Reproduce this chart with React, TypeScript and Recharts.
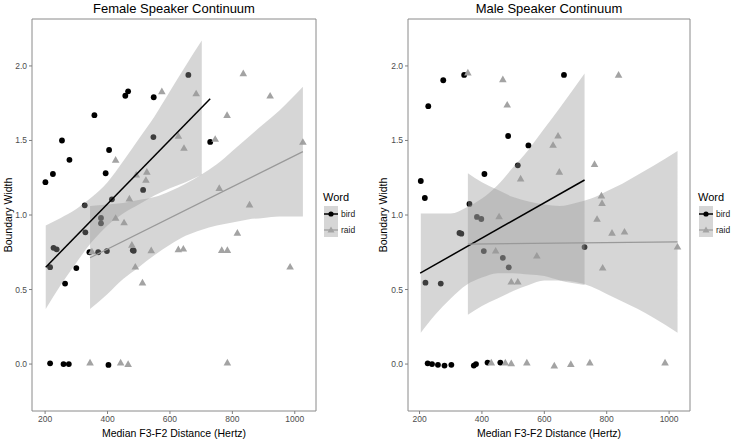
import React from 'react';
import { ComposedChart, Scatter, Line, Area, XAxis, YAxis, ReferenceArea } from 'recharts';

const FONT = '"Liberation Sans", Arial, sans-serif';

// ---------- Female speaker continuum ----------
const femaleBirdPts: [number, number][] = [
  [201, 1.22], [225, 1.275], [254, 1.5], [278, 1.37], [327, 1.065], [358, 1.67], [394, 1.28],
  [405, 1.436], [414, 1.105], [457, 1.8], [466, 1.83], [514, 1.168], [547, 1.523], [548, 1.79],
  [659, 1.94], [729, 1.49], [379, 0.98], [379, 0.944], [216, 0.65], [227, 0.78], [237, 0.77],
  [264, 0.54], [300, 0.644], [329, 0.884], [342, 0.75], [370, 0.75], [398, 0.758], [481, 0.763],
  [484, 0.76], [216, 0.005], [259, 0], [276, 0], [403, -0.006],
];
const femaleRaidPts: [number, number][] = [
  [350, 0.755], [426, 1.37], [492, 1.27], [526, 1.29], [523, 1.235], [470, 1.11], [426, 0.98],
  [453, 0.95], [478, 0.8], [489, 0.653], [512, 0.546], [540, 0.763], [574, 1.83], [627, 1.53],
  [645, 1.45], [627, 0.77], [643, 0.774], [684, 1.815], [745, 1.51], [758, 1.18], [783, 1.67],
  [766, 0.765], [784, 0.765], [816, 0.88], [835, 1.95], [855, 1.07], [921, 1.8], [985, 0.653],
  [1026, 1.49], [344, 0.01], [442, 0.01], [466, 0.0], [784, 0.01],
];
const femaleBirdFitX = [202, 729];
const femaleBirdFitY = [0.65, 1.78];
const femaleRaidFitX = [344, 1026];
const femaleRaidFitY = [0.713, 1.425];
const femaleBirdBandX = [202, 250, 300, 350, 400, 450, 500, 550, 600, 650, 702];
const femaleBirdBandLo = [0.37, 0.53, 0.68, 0.82, 0.93, 1.01, 1.07, 1.13, 1.18, 1.22, 1.27];
const femaleBirdBandHi = [0.93, 0.98, 1.04, 1.12, 1.22, 1.36, 1.51, 1.66, 1.83, 2.0, 2.17];
const femaleRaidBandX = [344, 400, 450, 500, 550, 600, 650, 700, 750, 800, 850, 900, 950, 1026];
const femaleRaidBandLo = [0.37, 0.47, 0.57, 0.65, 0.73, 0.8, 0.86, 0.9, 0.93, 0.95, 0.97, 0.98, 0.99, 0.99];
const femaleRaidBandHi = [1.06, 1.07, 1.08, 1.1, 1.12, 1.16, 1.21, 1.27, 1.34, 1.43, 1.52, 1.61, 1.7, 1.86];

// ---------- Male speaker continuum ----------
const maleBirdPts: [number, number][] = [
  [204, 1.228], [217, 1.114], [228, 1.73], [276, 1.904], [343, 1.94], [408, 1.275], [360, 1.074],
  [384, 0.987], [398, 0.973], [484, 1.53], [549, 1.467], [515, 1.333], [663, 1.94], [219, 0.546],
  [268, 0.54], [328, 0.88], [334, 0.875], [406, 0.758], [467, 0.713], [486, 0.649], [729, 0.785],
  [226, 0.005], [240, 0], [259, -0.005], [280, -0.01], [302, -0.005], [374, -0.01], [381, 0],
  [418, 0.01], [459, 0.01],
];
const maleRaidPts: [number, number][] = [
  [355, 1.955], [467, 1.91], [481, 1.74], [524, 1.244], [455, 0.99], [444, 0.76], [576, 0.727],
  [494, 0.552], [515, 0.552], [628, 1.47], [644, 1.532], [648, 1.29], [761, 1.342], [838, 1.94],
  [783, 1.13], [785, 1.08], [769, 0.973], [817, 0.88], [857, 0.888], [1027, 0.787], [787, 0.646],
  [430, 0.01], [475, 0.01], [494, 0.005], [544, 0.01], [632, -0.01], [685, 0], [746, 0.01], [987, 0.01],
];
const maleBirdFitX = [202, 729];
const maleBirdFitY = [0.61, 1.235];
const maleRaidFitX = [355, 1027];
const maleRaidFitY = [0.805, 0.82];
const maleBirdBandX = [204, 250, 300, 350, 400, 450, 500, 550, 600, 650, 729];
const maleBirdBandLo = [0.21, 0.33, 0.44, 0.53, 0.58, 0.61, 0.61, 0.6, 0.59, 0.56, 0.53];
const maleBirdBandHi = [1.01, 1.01, 1.01, 1.05, 1.11, 1.2, 1.32, 1.44, 1.58, 1.72, 1.95];
const maleRaidBandX = [355, 400, 450, 500, 550, 600, 650, 700, 750, 800, 850, 900, 950, 1027];
const maleRaidBandLo = [0.33, 0.39, 0.44, 0.49, 0.53, 0.56, 0.56, 0.55, 0.52, 0.47, 0.42, 0.37, 0.31, 0.21];
const maleRaidBandHi = [1.28, 1.22, 1.17, 1.12, 1.09, 1.07, 1.06, 1.08, 1.11, 1.16, 1.21, 1.27, 1.33, 1.43];

const xTicks = [200, 400, 600, 800, 1000];
const yTicks = [0, 0.5, 1, 1.5, 2];
const legendTitle = 'Word';
const legendLabels = ['bird', 'raid'];
const xTitle = 'Median F3-F2 Distance (Hertz)';
const yTitle = 'Boundary Width';

const toPts = (p: [number, number][]) => p.map(([x, y]) => ({ x, y }));
const toLine = (xs: number[], ys: number[]) => xs.map((x, i) => ({ x, y: ys[i] }));
const toBand = (xs: number[], lo: number[], hi: number[]) => xs.map((x, i) => ({ x, band: [lo[i], hi[i]] }));

const BAND = '#999999';
const RAID = '#a3a3a3';

const Dot = (props: any) => {
  const { cx, cy } = props;
  if (cx == null || cy == null) return null;
  return <circle cx={cx} cy={cy} r={2.9} fill="#000" />;
};
const Tri = (props: any) => {
  const { cx, cy } = props;
  if (cx == null || cy == null) return null;
  const s = 3.8;
  return <polygon points={`${cx},${cy - s} ${cx + s},${cy + s * 0.75} ${cx - s},${cy + s * 0.75}`} fill={RAID} />;
};

type PanelProps = {
  left: number; width: number; yAxisW: number; marginRight: number; xDomain: [number, number];
  title: string; birdPts: [number, number][]; raidPts: [number, number][];
  birdFit: any[]; raidFit: any[]; birdBand: any[]; raidBand: any[]; yTitleX: number; legendX: number;
};

const YDOM: [number, number] = [-0.315, 2.315];

const Panel = (p: PanelProps) => {
  const plotLeft = p.yAxisW;
  const plotRight = p.width - p.marginRight;
  const extra: any = { zIndex: 50 };
  const areaZ: any = { zIndex: 100 };
  return (
    <div style={{ position: 'absolute', left: p.left, top: 0, width: p.width, height: 443 }}>
      <ComposedChart width={p.width} height={443} margin={{ top: 19, right: p.marginRight, bottom: 0, left: 0 }}>
        <XAxis
          type="number" dataKey="x" domain={p.xDomain} ticks={xTicks} allowDataOverflow
          axisLine={false} tickLine={{ stroke: '#7f7f7f' }} tickSize={3} height={32}
          tick={{ fontSize: 8.5, fill: '#4d4d4d', fontFamily: FONT }}
        />
        <YAxis
          type="number" domain={YDOM} ticks={yTicks} allowDataOverflow width={p.yAxisW}
          axisLine={false} tickLine={{ stroke: '#7f7f7f' }} tickSize={3}
          tickFormatter={(v: number) => v.toFixed(1)}
          tick={{ fontSize: 8.5, fill: '#4d4d4d', fontFamily: FONT }}
        />
        <Scatter data={toPts(p.birdPts)} dataKey="y" shape={Dot} isAnimationActive={false} {...extra} />
        <Scatter data={toPts(p.raidPts)} dataKey="y" shape={Tri} isAnimationActive={false} {...extra} />
        <Area data={p.birdBand} dataKey="band" type="monotone" stroke="none" fill={BAND} fillOpacity={0.4} isAnimationActive={false} {...areaZ} />
        <Area data={p.raidBand} dataKey="band" type="monotone" stroke="none" fill={BAND} fillOpacity={0.4} isAnimationActive={false} {...areaZ} />
        <Line data={p.birdFit} dataKey="y" type="linear" stroke="#000" strokeWidth={1.5} dot={false} isAnimationActive={false} />
        <Line data={p.raidFit} dataKey="y" type="linear" stroke="#999" strokeWidth={1.2} dot={false} isAnimationActive={false} />
        <ReferenceArea x1={p.xDomain[0]} x2={p.xDomain[1]} y1={YDOM[0]} y2={YDOM[1]} fill="none" stroke="#8a8a8a" strokeWidth={1} ifOverflow="visible" />
      </ComposedChart>
      <div style={{ position: 'absolute', left: plotLeft, width: plotRight - plotLeft, top: 0, textAlign: 'center', fontSize: 13, lineHeight: '17px', color: '#000' }}>{p.title}</div>
      <div style={{ position: 'absolute', left: plotLeft, width: plotRight - plotLeft, top: 425, textAlign: 'center', fontSize: 10.5, lineHeight: '16px', color: '#000' }}>{xTitle}</div>
      <div style={{ position: 'absolute', left: p.yTitleX - 60, top: 215 - 8, width: 120, height: 16, textAlign: 'center', fontSize: 10.5, lineHeight: '16px', transform: 'rotate(-90deg)', color: '#000' }}>{yTitle}</div>
      <div style={{ position: 'absolute', left: p.legendX, top: 190, fontSize: 11, lineHeight: '14px', color: '#000' }}>{legendTitle}</div>
      <div style={{ position: 'absolute', left: p.legendX + 1, top: 206, width: 14, height: 31, background: 'rgba(153,153,153,0.4)' }} />
      <svg style={{ position: 'absolute', left: p.legendX + 1, top: 206 }} width={14} height={31}>
        <line x1={0} x2={14} y1={8} y2={8} stroke="#000" strokeWidth={1.5} />
        <circle cx={7} cy={8} r={2.6} fill="#000" />
        <line x1={0} x2={14} y1={24} y2={24} stroke="#999" strokeWidth={1.2} />
        <polygon points="7,20.5 10.5,26.5 3.5,26.5" fill={RAID} />
      </svg>
      <div style={{ position: 'absolute', left: p.legendX + 18, top: 208, fontSize: 8.5, lineHeight: '12px', color: '#1a1a1a' }}>{legendLabels[0]}</div>
      <div style={{ position: 'absolute', left: p.legendX + 18, top: 224, fontSize: 8.5, lineHeight: '12px', color: '#1a1a1a' }}>{legendLabels[1]}</div>
    </div>
  );
};

export default function App() {
  return (
    <div style={{ position: 'absolute', left: 0, top: 0, width: 734, height: 443, background: '#fff', fontFamily: FONT, overflow: 'hidden' }}>
      <Panel
        left={0} width={365} yAxisW={32} marginRight={49} xDomain={[158, 1068]}
        title="Female Speaker Continuum" birdPts={femaleBirdPts} raidPts={femaleRaidPts}
        birdFit={toLine(femaleBirdFitX, femaleBirdFitY)} raidFit={toLine(femaleRaidFitX, femaleRaidFitY)}
        birdBand={toBand(femaleBirdBandX, femaleBirdBandLo, femaleBirdBandHi)}
        raidBand={toBand(femaleRaidBandX, femaleRaidBandLo, femaleRaidBandHi)}
        yTitleX={8} legendX={323}
      />
      <Panel
        left={365} width={369} yAxisW={43} marginRight={44} xDomain={[163, 1067]}
        title="Male Speaker Continuum" birdPts={maleBirdPts} raidPts={maleRaidPts}
        birdFit={toLine(maleBirdFitX, maleBirdFitY)} raidFit={toLine(maleRaidFitX, maleRaidFitY)}
        birdBand={toBand(maleBirdBandX, maleBirdBandLo, maleBirdBandHi)}
        raidBand={toBand(maleRaidBandX, maleRaidBandLo, maleRaidBandHi)}
        yTitleX={18} legendX={333}
      />
    </div>
  );
}
